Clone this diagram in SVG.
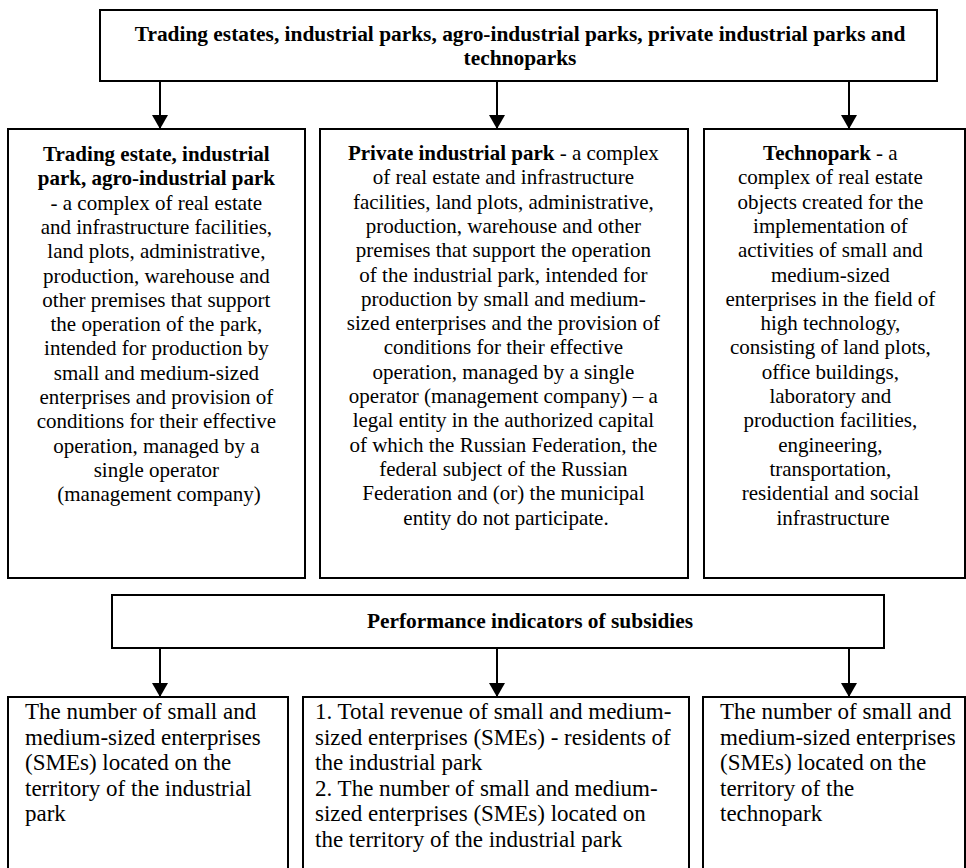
<svg xmlns="http://www.w3.org/2000/svg" width="966" height="868" viewBox="0 0 966 868">
<style>
.box{fill:#fff;stroke:#000;stroke-width:2}
.t{font-family:"Liberation Serif","Times New Roman",serif;font-size:21px;fill:#000}
.h{font-size:21.4px}
.c{text-anchor:middle}
.b{font-weight:bold}
.s{font-family:"Liberation Serif","Times New Roman",serif;font-size:23px;fill:#000}
.ln{stroke:#000;stroke-width:2;fill:none}
</style>
<defs>
<marker id="ah" viewBox="0 0 14 16" refX="14" refY="8" markerWidth="14" markerHeight="16" markerUnits="userSpaceOnUse" orient="auto">
<path d="M0,0 L14,8 L0,16 z" fill="#000"/>
</marker>
</defs>
<rect width="966" height="868" fill="#fff"/>
<g id="top">
<rect class="box" x="100" y="10" width="837" height="71"/>
<text class="t h c b" x="520" y="41">Trading estates, industrial parks, agro-industrial parks, private industrial parks and</text>
<text class="t h c b" x="520" y="65">technoparks</text>
</g>
<g id="trading">
<rect class="box" x="8" y="129" width="297" height="449"/>
<text class="t c" x="159">
<tspan class="b" x="159" y="161">Trading estate, industrial</tspan>
<tspan class="b" x="159" y="185.3">park, agro-industrial park</tspan>
<tspan x="159" y="209.6">- a complex of real estate</tspan>
<tspan x="159" y="233.9">and infrastructure facilities,</tspan>
<tspan x="159" y="258.2">land plots, administrative,</tspan>
<tspan x="159" y="282.5">production, warehouse and</tspan>
<tspan x="159" y="306.8">other premises that support</tspan>
<tspan x="159" y="331.1">the operation of the park,</tspan>
<tspan x="159" y="355.4">intended for production by</tspan>
<tspan x="159" y="379.7">small and medium-sized</tspan>
<tspan x="159" y="404">enterprises and provision of</tspan>
<tspan x="159" y="428.3">conditions for their effective</tspan>
<tspan x="159" y="452.6">operation, managed by a</tspan>
<tspan x="159" y="476.9">single operator</tspan>
<tspan x="159" y="501.2">(management company)</tspan>
</text>
</g>
<g id="private">
<rect class="box" x="320" y="129" width="368" height="449"/>
<text class="t c" x="506">
<tspan x="506" y="160"><tspan class="b">Private industrial park</tspan> - a complex</tspan>
<tspan x="506" y="184.3">of real estate and infrastructure</tspan>
<tspan x="506" y="208.6">facilities, land plots, administrative,</tspan>
<tspan x="506" y="232.9">production, warehouse and other</tspan>
<tspan x="506" y="257.2">premises that support the operation</tspan>
<tspan x="506" y="281.5">of the industrial park, intended for</tspan>
<tspan x="506" y="305.8">production by small and medium-</tspan>
<tspan x="506" y="330.1">sized enterprises and the provision of</tspan>
<tspan x="506" y="354.4">conditions for their effective</tspan>
<tspan x="506" y="378.7">operation, managed by a single</tspan>
<tspan x="506" y="403">operator (management company) – a</tspan>
<tspan x="506" y="427.3">legal entity in the authorized capital</tspan>
<tspan x="506" y="451.6">of which the Russian Federation, the</tspan>
<tspan x="506" y="475.9">federal subject of the Russian</tspan>
<tspan x="506" y="500.2">Federation and (or) the municipal</tspan>
<tspan x="506" y="524.5">entity do not participate.</tspan>
</text>
</g>
<g id="technopark">
<rect class="box" x="704" y="129" width="261" height="449"/>
<text class="t c" x="833">
<tspan x="833" y="160"><tspan class="b">Technopark</tspan> - a</tspan>
<tspan x="833" y="184.3">complex of real estate</tspan>
<tspan x="833" y="208.6">objects created for the</tspan>
<tspan x="833" y="232.9">implementation of</tspan>
<tspan x="833" y="257.2">activities of small and</tspan>
<tspan x="833" y="281.5">medium-sized</tspan>
<tspan x="833" y="305.8">enterprises in the field of</tspan>
<tspan x="833" y="330.1">high technology,</tspan>
<tspan x="833" y="354.4">consisting of land plots,</tspan>
<tspan x="833" y="378.7">office buildings,</tspan>
<tspan x="833" y="403">laboratory and</tspan>
<tspan x="833" y="427.3">production facilities,</tspan>
<tspan x="833" y="451.6">engineering,</tspan>
<tspan x="833" y="475.9">transportation,</tspan>
<tspan x="833" y="500.2">residential and social</tspan>
<tspan x="833" y="524.5">infrastructure</tspan>
</text>
</g>
<g id="indicators">
<rect class="box" x="112" y="595" width="772" height="53"/>
<text class="t h c b" x="530" y="628">Performance indicators of subsidies</text>
</g>
<g id="ind-left">
<rect class="box" x="8" y="697" width="280" height="200"/>
<text class="s">
<tspan x="25" y="719">The number of small and</tspan>
<tspan x="25" y="744.5">medium-sized enterprises</tspan>
<tspan x="25" y="770">(SMEs) located on the</tspan>
<tspan x="25" y="795.5">territory of the industrial</tspan>
<tspan x="25" y="821">park</tspan>
</text>
</g>
<g id="ind-mid">
<rect class="box" x="303" y="697" width="386" height="200"/>
<text class="s">
<tspan x="315" y="719">1. Total revenue of small and medium-</tspan>
<tspan x="315" y="744.5">sized enterprises (SMEs) - residents of</tspan>
<tspan x="315" y="770">the industrial park</tspan>
<tspan x="315" y="795.5">2. The number of small and medium-</tspan>
<tspan x="315" y="821">sized enterprises (SMEs) located on</tspan>
<tspan x="315" y="846.5">the territory of the industrial park</tspan>
</text>
</g>
<g id="ind-right">
<rect class="box" x="703" y="697" width="262" height="200"/>
<text class="s">
<tspan x="720" y="719">The number of small and</tspan>
<tspan x="720" y="744.5">medium-sized enterprises</tspan>
<tspan x="720" y="770">(SMEs) located on the</tspan>
<tspan x="720" y="795.5">territory of the</tspan>
<tspan x="720" y="821">technopark</tspan>
</text>
</g>
<g id="connectors">
<line class="ln" x1="160" y1="81" x2="160" y2="129" marker-end="url(#ah)"/>
<line class="ln" x1="497" y1="81" x2="497" y2="129" marker-end="url(#ah)"/>
<line class="ln" x1="849" y1="81" x2="849" y2="129" marker-end="url(#ah)"/>
<line class="ln" x1="160" y1="648" x2="160" y2="697" marker-end="url(#ah)"/>
<line class="ln" x1="497" y1="648" x2="497" y2="697" marker-end="url(#ah)"/>
<line class="ln" x1="849" y1="648" x2="849" y2="697" marker-end="url(#ah)"/>
</g>
</svg>
